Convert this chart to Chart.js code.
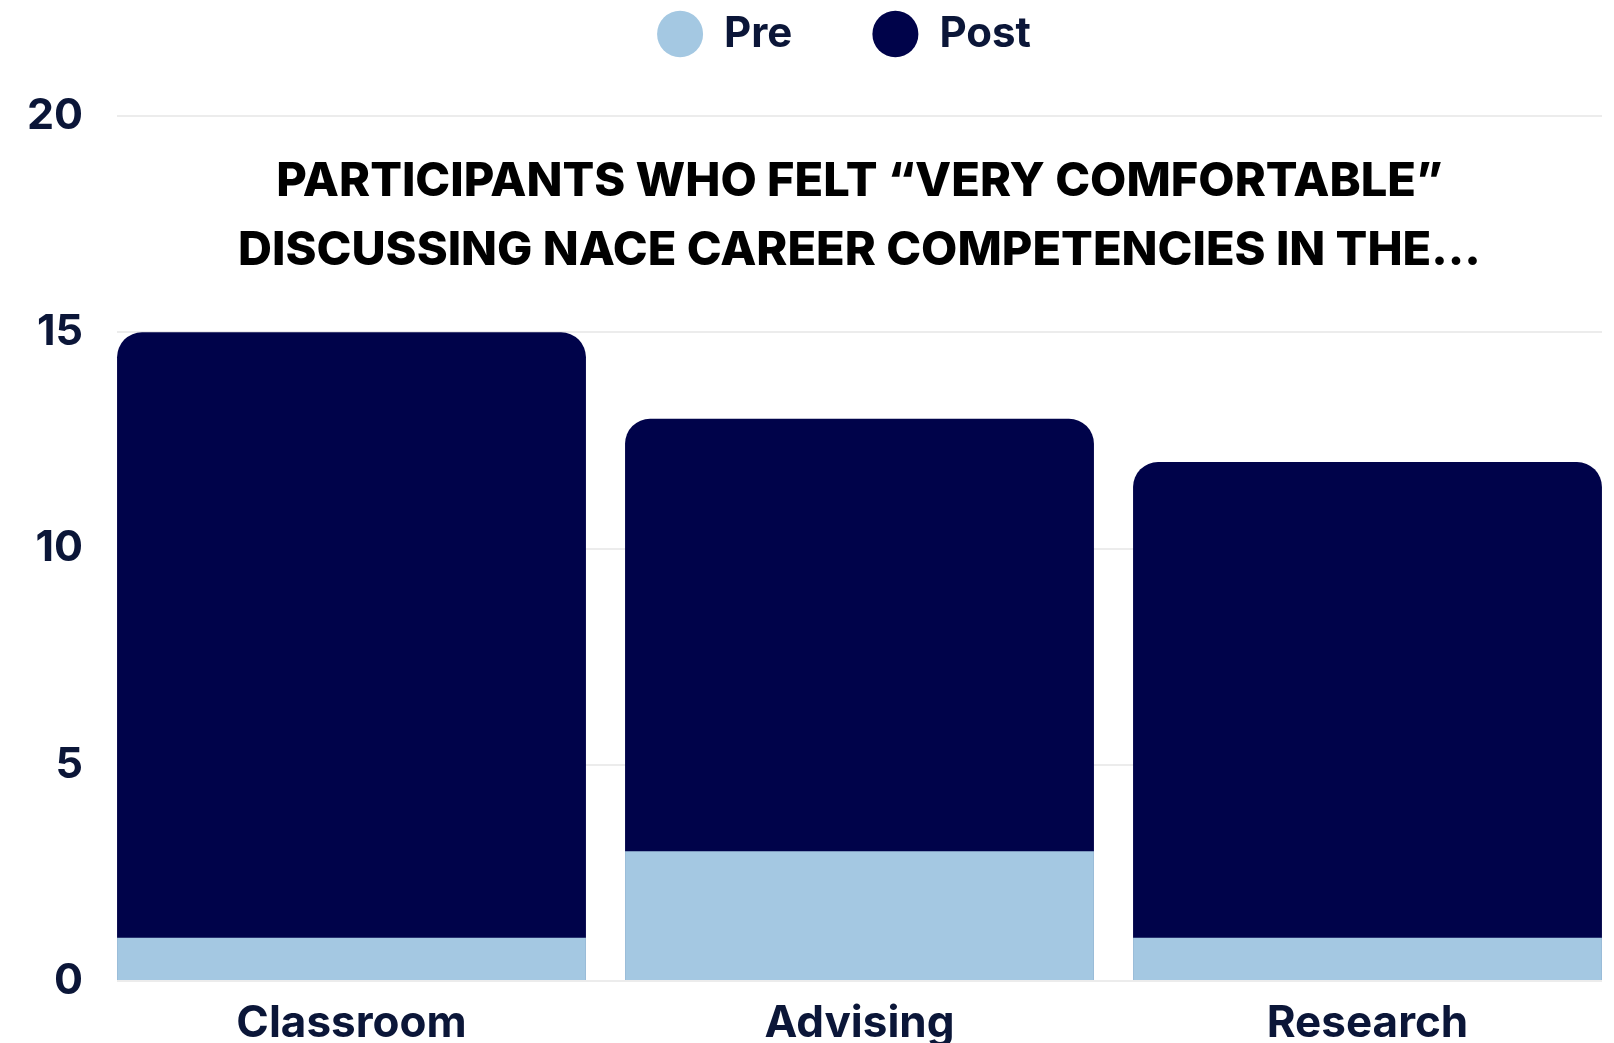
<!DOCTYPE html>
<html>
<head>
<meta charset="utf-8">
<script src="https://cdn.jsdelivr.net/npm/chart.js@4.4.0/dist/chart.umd.min.js"></script>
<style>
  html, body { margin: 0; padding: 0; background: #fff; overflow: hidden; }
  #wrap { width: 1614px; height: 1043px; position: relative; }
</style>
</head>
<body>
<div id="wrap"><canvas id="chart"></canvas></div>
<script>
const categories = ['Classroom', 'Advising', 'Research'];
const preValues = [1, 3, 1];
const postValues = [15, 13, 12];
const yTicks = [0, 5, 10, 15, 20];
const titleLines = ['PARTICIPANTS WHO FELT \u201CVERY COMFORTABLE\u201D', 'DISCUSSING NACE CAREER COMPETENCIES IN THE...'];

const INK = '#0b1638';
const FONT = 'Inter, "Open Sans", sans-serif';

// title sits inside the plot, between the 20 and 15 lines
const innerTitle = {
  id: 'innerTitle',
  afterDatasetsDraw(chart) {
    const { ctx, chartArea } = chart;
    const cx = (chartArea.left + chartArea.right) / 2;
    ctx.save();
    ctx.fillStyle = '#000';
    ctx.font = '800 47px ' + FONT;
    ctx.textAlign = 'center';
    ctx.textBaseline = 'middle';
    ctx.fillText(titleLines[0], cx, chartArea.top + 66);
    ctx.fillText(titleLines[1], cx, chartArea.top + 135);
    ctx.restore();
  }
};

// fixed legend band height; legend drawn higher and a bit right of centre
const legendBox = {
  id: 'legendBox',
  beforeInit(chart) {
    const fit = chart.legend.fit;
    chart.legend.fit = function () {
      fit.call(this);
      this.height = 116;
    };
  },
  afterLayout(chart) {
    const lg = chart.legend;
    lg.left += 43;
    lg.right += 43;
    lg.top -= 67;
  }
};

// outer bars sit flush with the ends of the grid lines
const flushBars = {
  id: 'flushBars',
  afterLayout(chart) {
    const x = chart.scales.x;
    x.left -= 19.5;
    x.right += 19.5;
    x.width += 39;
    x.configure();
  }
};

new Chart(document.getElementById('chart'), {
  type: 'bar',
  data: {
    labels: categories,
    datasets: [
      {
        label: 'Pre',
        data: preValues,
        backgroundColor: '#a4c8e2',
        borderRadius: 0,
        barPercentage: 0.923,
        categoryPercentage: 1
      },
      {
        label: 'Post',
        data: postValues,
        backgroundColor: '#00034a',
        borderRadius: { topLeft: 25, topRight: 25, bottomLeft: 0, bottomRight: 0 },
        borderSkipped: false,
        barPercentage: 0.923,
        categoryPercentage: 1
      }
    ]
  },
  options: {
    responsive: true,
    maintainAspectRatio: false,
    animation: false,
    layout: { padding: { left: 0, right: 12, top: 0, bottom: 0 } },
    plugins: {
      legend: {
        position: 'top',
        labels: {
          usePointStyle: true,
          pointStyle: 'circle',
          boxHeight: 33,
          pointStyleWidth: 46,
          padding: 80,
          color: INK,
          font: { family: FONT, size: 42, weight: '700' }
        }
      },
      tooltip: { enabled: false }
    },
    scales: {
      x: {
        stacked: true,
        grid: { display: false },
        border: { display: false },
        afterFit(scale) { scale.height = 62; },
        ticks: { color: INK, padding: 8, font: { family: FONT, size: 44, weight: '700' } }
      },
      y: {
        stacked: false,
        min: 0,
        max: 20,
        afterBuildTicks(axis) { axis.ticks = yTicks.map(v => ({ value: v })); },
        afterFit(scale) { scale.width = 117; },
        grid: { color: '#ececec', lineWidth: 2, drawTicks: false },
        border: { display: false },
        ticks: { color: INK, padding: 34, font: { family: FONT, size: 43, weight: '700' } }
      }
    }
  },
  plugins: [innerTitle, legendBox, flushBars]
});
</script>
</body>
</html>
